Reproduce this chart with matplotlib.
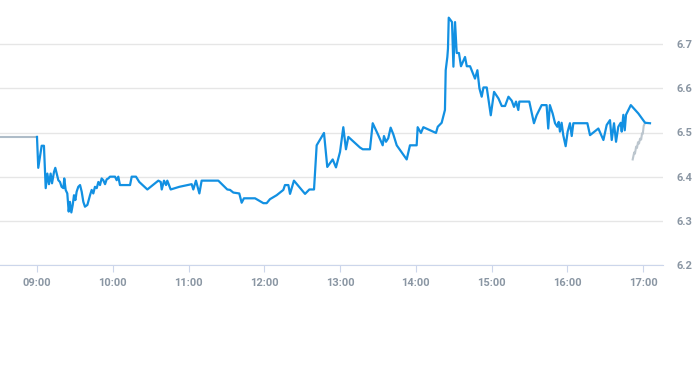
import matplotlib
matplotlib.use("Agg")
import matplotlib.pyplot as plt

# minutes after 09:00 and price
minuty = [0, 1.0, 3.7, 5.5, 6.9, 8.2, 9.5, 10.8, 11.9, 13.5, 14.5, 15.6, 16.9, 18.2,
          19.5, 20.9, 21.6, 22.7, 24.0, 25.1, 26.1, 27.2, 28.3, 29.3, 30.4, 31.4,
          32.7, 34.1, 35.4, 36.7, 38.0, 39.9, 42.0, 43.3, 44.6, 45.9, 47.3, 48.6,
          49.9, 51.2, 52.5, 53.9, 55.2, 56.5, 57.8, 61.8, 63.1, 64.4, 65.7, 73.7,
          75.0, 78.4, 81.0, 87.4, 96.1, 98.0, 98.8, 100.6, 102.2, 103.2, 105.9,
          112.7, 122.5, 123.8, 125.9, 128.6, 130.4, 143.6, 147.1, 150.7, 152.9,
          155.5, 160.2, 162.1, 163.9, 172.7, 179.3, 181.9, 184.5, 189.8, 195.1,
          196.4, 199.1, 200.4, 203.5, 212.3, 215.7, 219.4, 221.5, 227.3, 229.9,
          234.2, 236.8, 240.0, 242.6, 244.7, 246.6, 255.8, 258.0, 263.7, 265.9,
          270.3, 273.8, 274.8, 276.4, 278.2, 280.1, 282.2, 284.9, 292.8, 295.4,
          300.7, 301.5, 304.1, 306.0, 316.0, 317.4, 320.5, 323.1, 323.7, 325.0,
          325.5, 326.1, 327.1, 328.7, 329.8, 331.1, 332.4, 334.2, 335.8, 339.0,
          340.4, 343.0, 346.9, 348.8, 350.4, 352.2, 353.6, 356.2, 359.4, 362.0,
          365.5, 368.1, 370.7, 373.4, 376.0, 377.8, 379.4, 381.2, 382.0, 389.9,
          393.6, 395.7, 399.7, 403.6, 404.9, 406.2, 408.4, 410.3, 412.1, 413.2,
          414.2, 415.5, 416.8, 418.7, 420.3, 422.1, 423.5, 424.8, 435.9, 438.0,
          444.6, 448.6, 451.2, 453.8, 455.2, 457.0, 458.6, 460.4, 462.3, 463.1,
          464.4, 465.5, 466.5, 470.3, 476.3, 481.6, 485.5]
kurs = [6.490, 6.420, 6.470, 6.470, 6.374, 6.407, 6.383, 6.407, 6.385, 6.411, 6.420,
        6.407, 6.392, 6.388, 6.377, 6.374, 6.396, 6.370, 6.362, 6.321, 6.343, 6.319,
        6.336, 6.358, 6.347, 6.366, 6.377, 6.381, 6.366, 6.343, 6.332, 6.336, 6.358,
        6.370, 6.362, 6.377, 6.374, 6.388, 6.381, 6.396, 6.392, 6.383, 6.394, 6.396,
        6.400, 6.400, 6.392, 6.400, 6.381, 6.381, 6.400, 6.400, 6.388, 6.371, 6.391,
        6.388, 6.371, 6.391, 6.381, 6.391, 6.371, 6.377, 6.383, 6.371, 6.391, 6.362,
        6.391, 6.391, 6.381, 6.371, 6.370, 6.364, 6.362, 6.341, 6.351, 6.351, 6.340,
        6.340, 6.349, 6.358, 6.370, 6.381, 6.381, 6.361, 6.391, 6.361, 6.371, 6.371,
        6.471, 6.499, 6.422, 6.439, 6.421, 6.456, 6.512, 6.462, 6.490, 6.466, 6.462,
        6.462, 6.521, 6.494, 6.471, 6.492, 6.479, 6.487, 6.511, 6.496, 6.471, 6.439,
        6.471, 6.471, 6.512, 6.499, 6.512, 6.499, 6.513, 6.522, 6.551, 6.641, 6.671,
        6.690, 6.760, 6.756, 6.750, 6.649, 6.750, 6.680, 6.680, 6.650, 6.671, 6.650,
        6.650, 6.622, 6.641, 6.600, 6.581, 6.602, 6.602, 6.539, 6.592, 6.577, 6.560,
        6.560, 6.581, 6.572, 6.558, 6.570, 6.551, 6.570, 6.570, 6.521, 6.539, 6.562,
        6.562, 6.509, 6.562, 6.543, 6.521, 6.513, 6.524, 6.502, 6.522, 6.494, 6.469,
        6.502, 6.521, 6.492, 6.521, 6.521, 6.494, 6.509, 6.483, 6.517, 6.528, 6.483,
        6.521, 6.479, 6.513, 6.522, 6.502, 6.540, 6.505, 6.540, 6.562, 6.543, 6.522,
        6.521]

# previous close (grey) before the session
minuty_przed = [-29.3, 0]
kurs_przed = [6.49, 6.49]

# grey series at the end
minuty_koniec = [471.8, 473.0, 473.6, 474.5, 475.2, 476.0, 476.8, 477.6, 478.5,
                 479.2, 479.8, 480.5, 481.6]
kurs_koniec = [6.439, 6.455, 6.452, 6.468, 6.465, 6.478, 6.475, 6.486, 6.484,
               6.498, 6.497, 6.515, 6.522]

godziny = ["09:00", "10:00", "11:00", "12:00", "13:00", "14:00", "15:00", "16:00", "17:00"]
poziomy = [6.2, 6.3, 6.4, 6.5, 6.6, 6.7]

fig = plt.figure(figsize=(6.93, 3.65), dpi=100)
ax = fig.add_axes([0, 100 / 365, 663 / 693, 265 / 365])

ax.plot(minuty_przed, kurs_przed, color="#aebcc8", lw=1.5)
ax.plot(minuty_koniec, kurs_koniec, color="#bcc6ce", lw=1.5)
ax.plot(minuty, kurs, color="#1290e2", lw=1.6)

ax.set_xlim(-29.3, 495.8)
ax.set_ylim(6.2, 6.8)

ax.set_xticks([i * 60 for i in range(len(godziny))])
ax.set_xticklabels(godziny)
ax.set_yticks(poziomy)
ax.set_yticklabels([f"{p:.1f}" for p in poziomy])

ax.yaxis.tick_right()
ax.grid(axis="y", color="#e6e6e6", lw=1)
ax.set_axisbelow(True)
for s in ["top", "left", "right"]:
    ax.spines[s].set_visible(False)
ax.spines["bottom"].set_color("#ccd6eb")

ax.tick_params(axis="x", length=5, color="#ccd6eb", pad=4,
               labelsize=8, labelcolor="#8a96a3")
ax.tick_params(axis="y", length=0, pad=10, labelsize=8, labelcolor="#8a96a3")
for lab in ax.get_xticklabels() + ax.get_yticklabels():
    lab.set_fontweight("bold")
    lab.set_family("Roboto")

fig.savefig("out.png", dpi=100)
